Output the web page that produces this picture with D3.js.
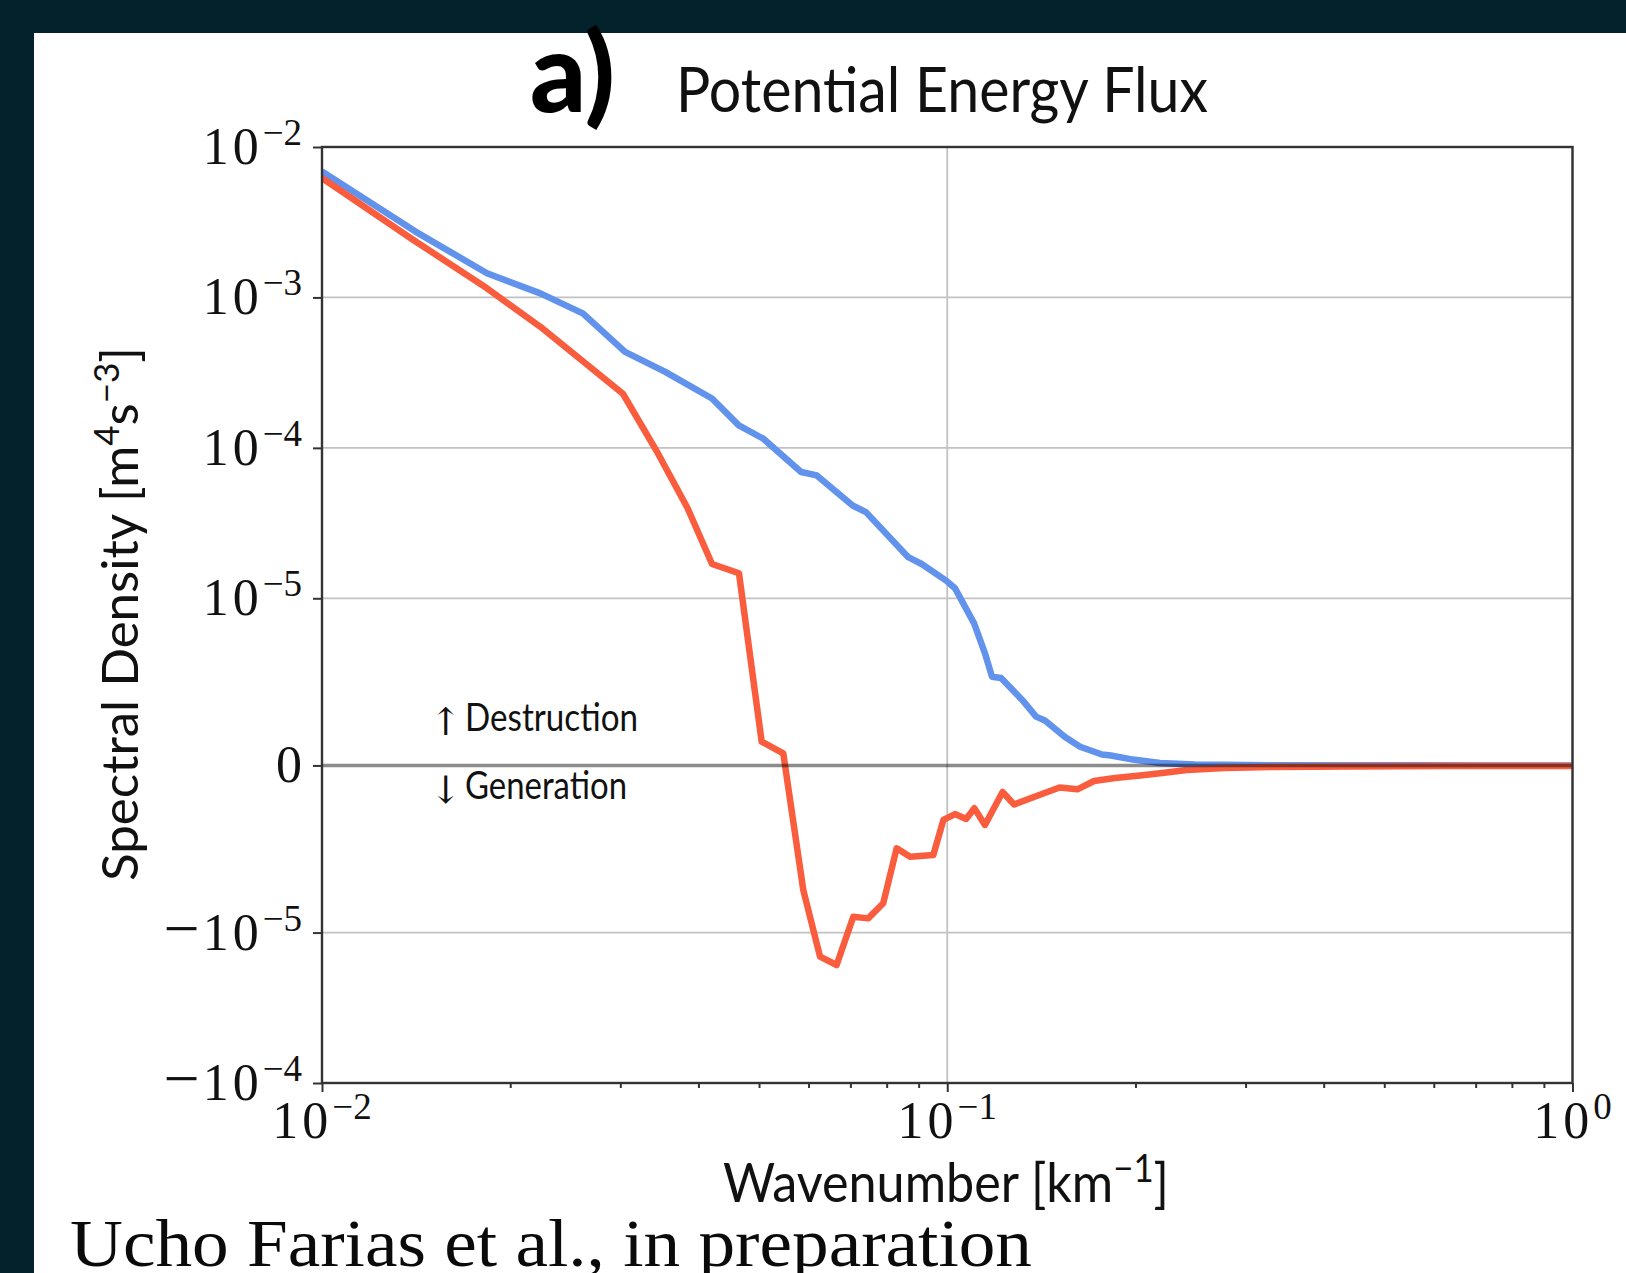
<!DOCTYPE html>
<html>
<head>
<meta charset="utf-8">
<script src="https://cdn.jsdelivr.net/npm/d3@7"></script>
<style>
  html, body { margin: 0; padding: 0; background: #03222b; }
  svg { display: block; }
</style>
</head>
<body>
<svg id="chart" width="1626" height="1273"></svg>
<script>
// Wavenumber [km^-1] and spectral flux [m^4 s^-3] for the two curves
const blueK = [0.01, 0.01411, 0.01836, 0.02235, 0.02613, 0.03053, 0.0354, 0.04205, 0.04641, 0.0508,
  0.05838, 0.06185, 0.07057, 0.07413, 0.08662, 0.0910, 0.0996, 0.1029, 0.1104, 0.1149,
  0.1179, 0.1219, 0.1318, 0.1387, 0.1433, 0.1543, 0.1631, 0.1768, 0.1827, 0.1982,
  0.219, 0.249, 0.30, 0.40, 0.55, 0.75, 1.0];
const blueV = [6.88e-3, 2.74e-3, 1.447e-3, 1.064e-3, 7.83e-4, 4.35e-4, 3.20e-4, 2.13e-4, 1.41e-4, 1.15e-4,
  6.91e-5, 6.56e-5, 4.14e-5, 3.74e-5, 1.876e-5, 1.69e-5, 1.31e-5, 1.165e-5, 8.5e-6, 6.71e-6,
  5.31e-6, 5.23e-6, 3.92e-6, 2.92e-6, 2.69e-6, 1.70e-6, 1.12e-6, 6.5e-7, 5.9e-7, 3.5e-7,
  1.45e-7, 5e-8, 2e-8, 1e-8, 5e-9, 3e-9, 2e-9];

const redK = [0.01, 0.0140, 0.01836, 0.02235, 0.03029, 0.03424, 0.03842, 0.04205, 0.04644, 0.05049,
  0.05467, 0.05885, 0.0626, 0.06654, 0.07075, 0.07474, 0.0790, 0.0830, 0.0872, 0.0950,
  0.0986, 0.1029, 0.1072, 0.1105, 0.1149, 0.1226, 0.1279, 0.1376, 0.1512, 0.1615,
  0.1717, 0.1855, 0.2034, 0.219, 0.2417, 0.278, 0.3283, 0.4406, 0.637, 1.0];
const redV = [6.22e-3, 2.41e-3, 1.15e-3, 6.38e-4, 2.29e-4, 9.63e-5, 3.98e-5, 1.69e-5, 1.466e-5, 1.42e-6,
  7.25e-7, -7.45e-6, -1.447e-5, -1.643e-5, -9.05e-6, -9.15e-6, -8.25e-6, -4.96e-6, -5.46e-6, -5.36e-6,
  -3.26e-6, -2.91e-6, -3.20e-6, -2.56e-6, -3.56e-6, -1.59e-6, -2.34e-6, -1.89e-6, -1.32e-6, -1.43e-6,
  -9.3e-7, -7.5e-7, -6.0e-7, -4.7e-7, -2.7e-7, -1.5e-7, -1.0e-7, -6e-8, -4e-8, -3e-8];

// Axis ticks
const xMajorTicks = [0.01, 0.1, 1];
const xTickExponents = ["−2", "−1", "0"];
const xMinorTicks = [2,3,4,5,6,7,8,9].map(m => m * 0.01).concat([2,3,4,5,6,7,8,9].map(m => m * 0.1));
const yTicks = [1e-2, 1e-3, 1e-4, 1e-5, 0, -1e-5, -1e-4];
const yTickNegative = [false, false, false, false, false, true, true];
const yTickExponents = ["−2", "−3", "−4", "−5", null, "−5", "−4"];

// Series styling
const series = [
  { k: blueK, v: blueV, color: "#6192ec" },
  { k: redK,  v: redV,  color: "#fa5c3e" }
];

// Symmetric log transform (linear within ±linthresh, log outside)
const LINTHRESH = 1e-5, LINSCALE = 1, BASE = 10;
const linscaleAdj = LINSCALE / (1 - 1 / BASE);
function symlog(v) {
  const a = Math.abs(v);
  if (a <= LINTHRESH) return (v / LINTHRESH) * linscaleAdj;
  return Math.sign(v) * (linscaleAdj + Math.log10(a / LINTHRESH));
}

const svg = d3.select("#chart");
const W = 1626, H = 1273;

// Frame: dark border with white page
svg.append("rect").attr("x", 0).attr("y", 0).attr("width", W).attr("height", H).attr("fill", "#03222b");
svg.append("rect").attr("x", 34).attr("y", 33).attr("width", W - 34).attr("height", H - 33).attr("fill", "#ffffff");

const plot = { left: 322, right: 1572.5, top: 147, bottom: 1083 };

const x = d3.scaleLog().domain([0.01, 1]).range([plot.left, plot.right]);
const yT = d3.scaleLinear().domain([symlog(-1e-4), symlog(1e-2)]).range([plot.bottom, plot.top]);
const y = v => yT(symlog(v));

const serif = "'Liberation Serif', 'DejaVu Serif', serif";
const sans = "Lato, 'Open Sans', 'DejaVu Sans', sans-serif";

// Grid
const grid = svg.append("g");
grid.selectAll("line.h").data(yTicks.filter(t => t !== 0)).join("line")
  .attr("x1", plot.left).attr("x2", plot.right)
  .attr("y1", d => y(d)).attr("y2", d => y(d))
  .attr("stroke", "#c2c2c2").attr("stroke-width", 1.8);
grid.selectAll("line.v").data(xMajorTicks).join("line")
  .attr("x1", d => x(d)).attr("x2", d => x(d))
  .attr("y1", plot.top).attr("y2", plot.bottom)
  .attr("stroke", "#c2c2c2").attr("stroke-width", 1.8);

// Curves
svg.append("clipPath").attr("id", "plotclip").append("rect")
  .attr("x", plot.left).attr("y", plot.top)
  .attr("width", plot.right - plot.left).attr("height", plot.bottom - plot.top);

const line = d3.line().x(d => x(d[0])).y(d => y(d[1]));
const curves = svg.append("g").attr("clip-path", "url(#plotclip)");
series.forEach(s => {
  curves.append("path")
    .datum(s.k.map((k, i) => [k, s.v[i]]))
    .attr("d", line)
    .attr("fill", "none")
    .attr("stroke", s.color)
    .attr("stroke-width", 6.5)
    .attr("stroke-linejoin", "round");
});

// Zero reference line, translucent, over the curves
svg.append("line")
  .attr("x1", plot.left).attr("x2", plot.right)
  .attr("y1", y(0)).attr("y2", y(0))
  .attr("stroke", "#000").attr("stroke-opacity", 0.45).attr("stroke-width", 3.5);

// Axes (tick marks)
const axisStyle = g => {
  g.select(".domain").remove();
  g.selectAll(".tick line").attr("stroke", "#333").attr("stroke-width", 2);
  g.selectAll(".tick text").remove();
};
svg.append("g").attr("transform", `translate(0,${plot.bottom})`)
  .call(d3.axisBottom(x).tickValues(xMajorTicks).tickSize(9).tickFormat(""))
  .call(axisStyle);
svg.append("g").attr("transform", `translate(0,${plot.bottom})`)
  .call(d3.axisBottom(x).tickValues(xMinorTicks).tickSize(5).tickFormat(""))
  .call(axisStyle);
svg.append("g").attr("transform", `translate(${plot.left},0)`)
  .call(d3.axisLeft(yT).tickValues(yTicks.map(symlog)).tickSize(9).tickFormat(""))
  .call(axisStyle);

// Spines
svg.append("rect")
  .attr("x", plot.left).attr("y", plot.top)
  .attr("width", plot.right - plot.left).attr("height", plot.bottom - plot.top)
  .attr("fill", "none").attr("stroke", "#333").attr("stroke-width", 2.4);

// Tick labels: mantissa "10" plus raised exponent
const mainSize = 52, supSize = 37, supRise = 19, digitSpacing = 4;
yTicks.forEach((t, i) => {
  const txt = svg.append("text")
    .attr("x", 302).attr("y", y(t) + 17)
    .attr("text-anchor", "end")
    .attr("font-family", serif).attr("font-size", mainSize).attr("fill", "#111");
  if (yTickExponents[i] === null) {
    txt.text("0");
  } else {
    if (yTickNegative[i]) {
      txt.append("tspan").attr("font-size", 64).text("−");
      txt.append("tspan").attr("dx", 3).attr("letter-spacing", digitSpacing).text("10");
    } else {
      txt.append("tspan").attr("letter-spacing", digitSpacing).text("10");
    }
    txt.append("tspan").attr("dy", -supRise).attr("font-size", supSize).text(yTickExponents[i]);
  }
});
xMajorTicks.forEach((t, i) => {
  const txt = svg.append("text")
    .attr("x", x(t)).attr("y", 1138)
    .attr("text-anchor", "middle")
    .attr("font-family", serif).attr("font-size", mainSize).attr("fill", "#111");
  txt.append("tspan").attr("letter-spacing", digitSpacing).text("10");
  txt.append("tspan").attr("dy", -supRise).attr("font-size", supSize).text(xTickExponents[i]);
});

// Axis titles
const xl = svg.append("text")
  .attr("x", 946).attr("y", 1202).attr("text-anchor", "middle")
  .attr("font-family", sans).attr("font-size", 55).attr("fill", "#111")
  .attr("textLength", 446).attr("lengthAdjust", "spacingAndGlyphs");
xl.append("tspan").text("Wavenumber [km");
xl.append("tspan").attr("dy", -20).attr("font-size", 38).text("−1");
xl.append("tspan").attr("dy", 20).text("]");

const yl = svg.append("text")
  .attr("transform", "translate(138,614) rotate(-90)")
  .attr("text-anchor", "middle")
  .attr("font-family", sans).attr("font-size", 51).attr("fill", "#111")
  .attr("textLength", 534).attr("lengthAdjust", "spacingAndGlyphs");
yl.append("tspan").text("Spectral Density [m");
yl.append("tspan").attr("dy", -19).attr("font-size", 35).text("4");
yl.append("tspan").attr("dy", 19).text("s");
yl.append("tspan").attr("dy", -19).attr("font-size", 35).text("−3");
yl.append("tspan").attr("dy", 19).text("]");

// Title
svg.append("text").attr("x", 530).attr("y", 112)
  .attr("font-family", sans).attr("font-weight", 900).attr("font-size", 110).attr("fill", "#000")
  .text("a)");
svg.append("text").attr("x", 676).attr("y", 112)
  .attr("font-family", sans).attr("font-size", 61).attr("fill", "#111")
  .attr("textLength", 532).attr("lengthAdjust", "spacingAndGlyphs")
  .text("Potential Energy Flux");

// Sign annotations around the zero line
const notes = [
  { arrow: "↑", word: "Destruction", y: 731, len: 173 },
  { arrow: "↓", word: "Generation", y: 799, len: 162 }
];
notes.forEach(n => {
  svg.append("text").attr("x", 430).attr("y", n.y + 4)
    .attr("font-family", "'DejaVu Serif', serif").attr("font-size", 38).attr("fill", "#111")
    .text(n.arrow);
  svg.append("text").attr("x", 465).attr("y", n.y)
    .attr("font-family", sans).attr("font-size", 38).attr("fill", "#111")
    .attr("textLength", n.len).attr("lengthAdjust", "spacingAndGlyphs")
    .text(n.word);
});

// Credit line
svg.append("text").attr("x", 70).attr("y", 1266)
  .attr("font-family", serif).attr("font-size", 68).attr("fill", "#0a0a0a")
  .attr("textLength", 962).attr("lengthAdjust", "spacingAndGlyphs")
  .text("Ucho Farias et al., in preparation");
</script>
</body>
</html>
